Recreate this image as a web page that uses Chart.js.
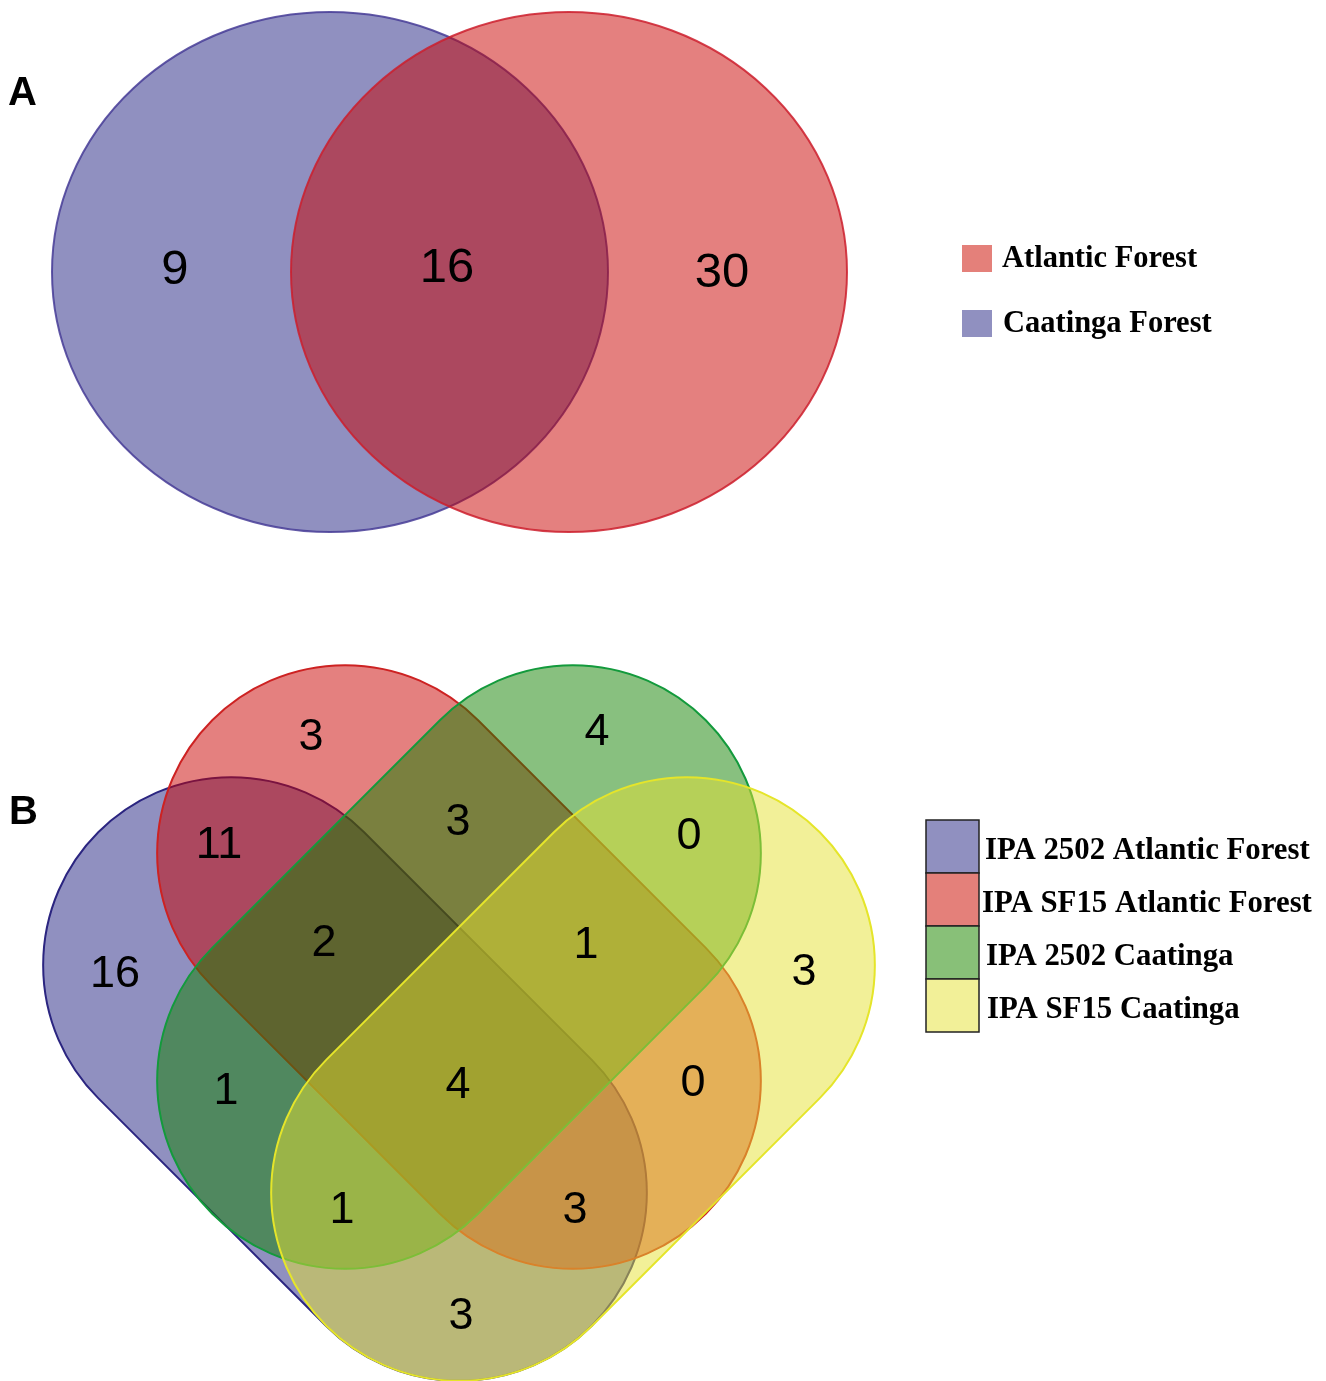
<!DOCTYPE html>
<html><head><meta charset="utf-8">
<script src="https://cdn.jsdelivr.net/npm/chart.js@4.4.1/dist/chart.umd.min.js"></script>
<style>html,body{margin:0;padding:0;background:#fff;}#wrap{width:1326px;height:1381px;position:relative;}</style>
</head><body><div id="wrap"><canvas id="c" width="1326" height="1381"></canvas></div>
<script>
// ---------- DATA ----------
const panelTitles = ['A', 'B'];
const setsA = ['Atlantic Forest', 'Caatinga Forest'];
const regionsA = ['Caatinga only', 'Atlantic ∩ Caatinga', 'Atlantic only'];
const valuesA = [9, 16, 30];

const setsB = ['IPA 2502 Atlantic Forest', 'IPA SF15 Atlantic Forest', 'IPA 2502 Caatinga', 'IPA SF15 Caatinga'];
// region codes: B = IPA 2502 AF, R = IPA SF15 AF, G = IPA 2502 Caatinga, Y = IPA SF15 Caatinga
const regionsB = ['R', 'G', 'BR', 'RG', 'GY', 'B', 'BRG', 'RGY', 'Y', 'BG', 'BRGY', 'RY', 'BGY', 'BRY', 'BY'];
const valuesB = [3, 4, 11, 3, 0, 16, 2, 1, 3, 1, 4, 0, 1, 3, 3];

// ---------- LAYOUT / STYLE (not data) ----------
const W = 1326, H = 1381;
const layoutA = {
  shapes: [
    { kind: 'ellipse', cx: 330, cy: 272, rx: 278, ry: 260, rot: 0, fill: 'rgba(33,33,129,0.5)', stroke: 'rgba(70,60,150,0.85)' },
    { kind: 'ellipse', cx: 569, cy: 272, rx: 278, ry: 260, rot: 0, fill: 'rgba(202,2,0,0.5)', stroke: 'rgba(205,30,45,0.85)' }
  ],
  labelPos: [[175, 269], [447, 267], [722, 272]],
  font: '49px "Liberation Sans", Arial, Helvetica, sans-serif',
  legend: [
    { box: [962, 245, 30, 27], fill: '#e4807a', text: [1002, 267] },
    { box: [962, 310, 30, 27], fill: '#9090c0', text: [1003, 332] }
  ],
  title: [8, 105]
};
const HL = 161, RR = 188, Q = Math.PI / 4;   // stadium half-length and end radius
const layoutB = {
  shapes: [
    { kind: 'stadium', cx: 345, cy: 1079, L: HL, r: RR, rot: Q, fill: 'rgba(33,33,129,0.5)', stroke: '#2b2580' },
    { kind: 'stadium', cx: 459, cy: 967, L: HL, r: RR, rot: Q, fill: 'rgba(202,2,0,0.5)', stroke: '#cd2222' },
    { kind: 'stadium', cx: 459, cy: 967, L: HL, r: RR, rot: -Q, fill: 'rgba(17,129,0,0.5)', stroke: '#139a3c' },
    { kind: 'stadium', cx: 573, cy: 1079, L: HL, r: RR, rot: -Q, fill: 'rgba(229,225,49,0.5)', stroke: '#e5e52a' }
  ],
  labelPos: [[311, 737], [597, 732], [219, 845], [458, 822], [689, 836], [115, 974], [324, 943], [586, 945],
             [804, 972], [226, 1091], [458, 1085], [693, 1083], [342, 1210], [575, 1210], [461, 1316]],
  font: '45px "Liberation Sans", Arial, Helvetica, sans-serif',
  legend: [
    { box: [926, 820, 53, 53], fill: '#9090c0', text: [985, 859] },
    { box: [926, 873, 53, 53], fill: '#e4807a', text: [982, 912] },
    { box: [926, 926, 53, 53], fill: '#88c078', text: [986, 965] },
    { box: [926, 979, 53, 53], fill: '#f2f098', text: [987, 1018] }
  ],
  title: [9, 824]
};

function makePoints(values, pos) {
  return values.map((v, i) => ({ x: pos[i][0], y: pos[i][1], v: v }));
}

const vennPlugin = {
  id: 'venn',
  beforeDatasetsDraw(chart) {
    const ctx = chart.ctx, xs = chart.scales.x, ys = chart.scales.y;
    const draw = (e, lw) => {
      const px = xs.getPixelForValue(e.cx), py = ys.getPixelForValue(e.cy);
      ctx.beginPath();
      if (e.kind === 'ellipse') {
        const rx = Math.abs(xs.getPixelForValue(e.cx + e.rx) - px);
        const ry = Math.abs(ys.getPixelForValue(e.cy + e.ry) - py);
        ctx.ellipse(px, py, rx, ry, e.rot, 0, Math.PI * 2);
      } else {
        const ux = Math.cos(e.rot), uy = Math.sin(e.rot);
        const x1 = xs.getPixelForValue(e.cx - e.L * ux), y1 = ys.getPixelForValue(e.cy - e.L * uy);
        const x2 = xs.getPixelForValue(e.cx + e.L * ux), y2 = ys.getPixelForValue(e.cy + e.L * uy);
        const r = Math.abs(xs.getPixelForValue(e.cx + e.r) - px);
        ctx.arc(x2, y2, r, e.rot - Math.PI / 2, e.rot + Math.PI / 2);
        ctx.arc(x1, y1, r, e.rot + Math.PI / 2, e.rot + Math.PI * 1.5);
        ctx.closePath();
      }
      ctx.fillStyle = e.fill; ctx.fill();
      ctx.lineWidth = lw; ctx.strokeStyle = e.stroke; ctx.stroke();
    };
    ctx.save();
    layoutA.shapes.forEach(e => draw(e, 2));
    layoutB.shapes.forEach(e => draw(e, 2));
    ctx.restore();
  },
  afterDatasetsDraw(chart) {
    const ctx = chart.ctx, xs = chart.scales.x, ys = chart.scales.y;
    ctx.save();
    ctx.fillStyle = '#000';
    ctx.textAlign = 'center';
    ctx.textBaseline = 'middle';
    chart.data.datasets.forEach((ds, di) => {
      const meta = chart.getDatasetMeta(di);
      ctx.font = ds.labelFont;
      meta.data.forEach((el, i) => {
        ctx.fillText(String(ds.data[i].v), el.x, el.y + 1);
      });
    });
    // panel titles
    ctx.textAlign = 'left';
    ctx.textBaseline = 'alphabetic';
    ctx.font = 'bold 40px "Liberation Sans", Arial, Helvetica, sans-serif';
    ctx.fillText(panelTitles[0], xs.getPixelForValue(layoutA.title[0]), ys.getPixelForValue(layoutA.title[1]));
    ctx.fillText(panelTitles[1], xs.getPixelForValue(layoutB.title[0]), ys.getPixelForValue(layoutB.title[1]));
    // legends
    ctx.font = 'bold 30.5px "Liberation Serif", "Times New Roman", Times, serif';
    layoutA.legend.forEach((L, i) => {
      const x = xs.getPixelForValue(L.box[0]), y = ys.getPixelForValue(L.box[1]);
      ctx.fillStyle = L.fill;
      ctx.fillRect(x, y, L.box[2], L.box[3]);
      ctx.fillStyle = '#000';
      ctx.fillText(setsA[i], xs.getPixelForValue(L.text[0]), ys.getPixelForValue(L.text[1]));
    });
    ctx.font = 'bold 30.8px "Liberation Serif", "Times New Roman", Times, serif';
    layoutB.legend.forEach((L, i) => {
      const x = xs.getPixelForValue(L.box[0]), y = ys.getPixelForValue(L.box[1]);
      ctx.fillStyle = L.fill;
      ctx.fillRect(x, y, L.box[2], L.box[3]);
      ctx.lineWidth = 1.5; ctx.strokeStyle = '#222';
      ctx.strokeRect(x, y, L.box[2], L.box[3]);
      ctx.fillStyle = '#000';
      ctx.fillText(setsB[i], xs.getPixelForValue(L.text[0]), ys.getPixelForValue(L.text[1]));
    });
    ctx.restore();
  }
};

new Chart(document.getElementById('c'), {
  type: 'scatter',
  data: {
    datasets: [
      { label: 'Panel A', data: makePoints(valuesA, layoutA.labelPos), labelFont: layoutA.font, pointRadius: 0, pointHoverRadius: 0 },
      { label: 'Panel B', data: makePoints(valuesB, layoutB.labelPos), labelFont: layoutB.font, pointRadius: 0, pointHoverRadius: 0 }
    ]
  },
  options: {
    responsive: false,
    animation: false,
    devicePixelRatio: 1,
    layout: { padding: 0 },
    events: [],
    plugins: { legend: { display: false }, tooltip: { enabled: false } },
    scales: {
      x: { type: 'linear', min: 0, max: W, display: false },
      y: { type: 'linear', min: 0, max: H, reverse: true, display: false }
    }
  },
  plugins: [vennPlugin]
});
</script>
</body></html>
